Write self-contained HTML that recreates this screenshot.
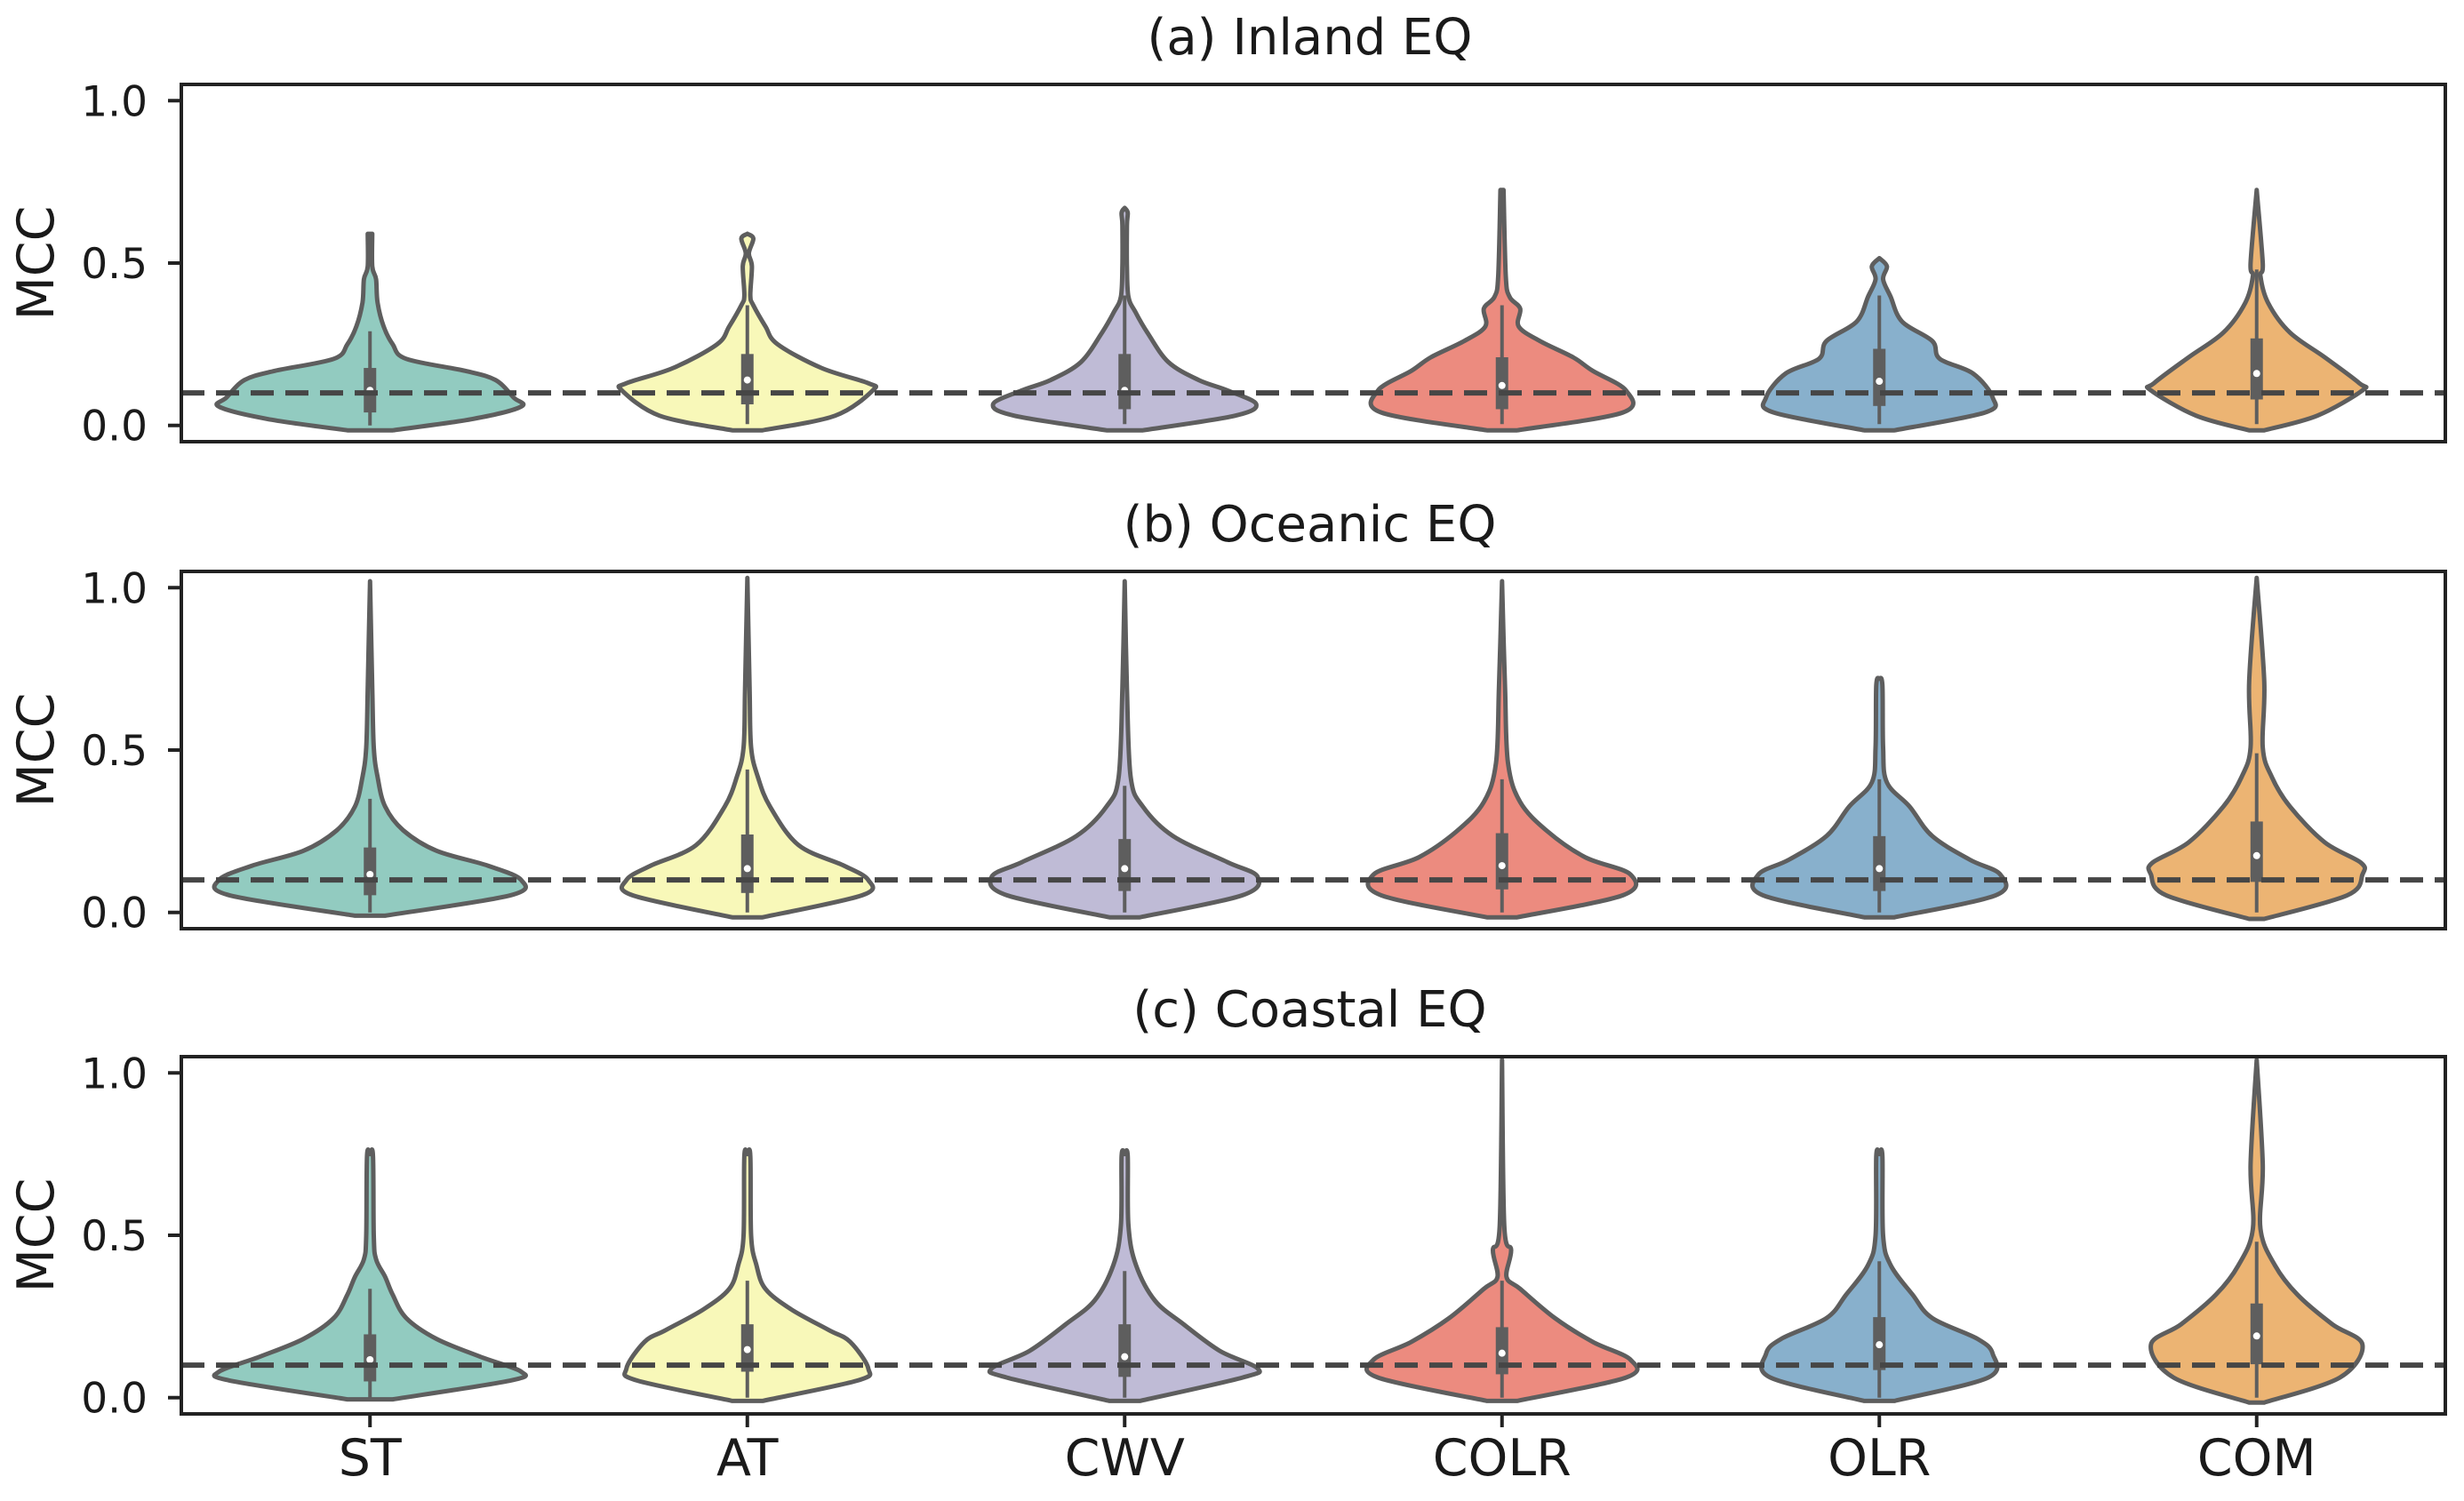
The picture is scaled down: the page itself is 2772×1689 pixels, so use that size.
<!DOCTYPE html>
<html><head><meta charset="utf-8">
<style>
html,body{margin:0;padding:0;background:#fff;}
svg{display:block;}
text{font-family:"DejaVu Sans","Liberation Sans",sans-serif;fill:#1a1a1a;}
</style></head>
<body>
<svg id="chart" width="2772" height="1689" viewBox="0 0 2772 1689" xmlns="http://www.w3.org/2000/svg"></svg>
<script>
const categories = ["ST","AT","CWV","COLR","OLR","COM"];
const panelTitles = ["(a) Inland EQ","(b) Oceanic EQ","(c) Coastal EQ"];
const yTicks = [0.0, 0.5, 1.0];
const yTickLabels = ["0.0","0.5","1.0"];
const threshold = 0.1;
const colors = ["#92cbc0","#f8f8b9","#bfbbd6","#ec8b7f","#88b0cc","#ecb473"];

// violin profiles: [value, relative half-width]
const shapesA = [
 [[-0.015,0.15],[0.02,0.68],[0.058,1.0],[0.086,0.95],[0.14,0.83],[0.168,0.63],[0.205,0.24],[0.25,0.15],[0.305,0.09],[0.378,0.05],[0.45,0.04],[0.49,0.015],[0.59,0.015]],
 [[-0.015,0.1],[0.03,0.58],[0.108,0.83],[0.13,0.8],[0.177,0.49],[0.25,0.2],[0.305,0.12],[0.37,0.04],[0.40,0.02],[0.49,0.03],[0.53,0.01],[0.575,0.04],[0.59,0.0]],
 [[-0.015,0.12],[0.03,0.73],[0.066,0.87],[0.108,0.68],[0.14,0.49],[0.195,0.29],[0.286,0.15],[0.35,0.07],[0.396,0.025],[0.49,0.015],[0.615,0.015],[0.655,0.02],[0.67,0.0]],
 [[-0.015,0.1],[0.04,0.8],[0.108,0.82],[0.168,0.6],[0.21,0.47],[0.26,0.25],[0.305,0.11],[0.36,0.12],[0.396,0.05],[0.46,0.025],[0.725,0.01]],
 [[-0.015,0.1],[0.04,0.7],[0.086,0.75],[0.16,0.62],[0.205,0.4],[0.26,0.35],[0.32,0.15],[0.396,0.075],[0.45,0.025],[0.49,0.05],[0.515,0.0]],
 [[-0.015,0.05],[0.03,0.4],[0.108,0.7],[0.13,0.68],[0.21,0.45],[0.286,0.22],[0.378,0.075],[0.46,0.025],[0.5,0.04],[0.725,0.0]]
];
const shapesB = [
 [[-0.01,0.1],[0.053,0.93],[0.1,1.0],[0.144,0.78],[0.19,0.44],[0.253,0.22],[0.326,0.1],[0.417,0.05],[0.508,0.025],[0.69,0.015],[1.02,0.0]],
 [[-0.015,0.1],[0.053,0.76],[0.1,0.8],[0.144,0.64],[0.207,0.34],[0.326,0.15],[0.417,0.07],[0.508,0.025],[0.69,0.015],[1.03,0.0]],
 [[-0.015,0.1],[0.053,0.78],[0.11,0.88],[0.155,0.68],[0.235,0.32],[0.326,0.12],[0.417,0.04],[0.69,0.015],[1.02,0.0]],
 [[-0.015,0.1],[0.053,0.8],[0.117,0.85],[0.17,0.55],[0.25,0.3],[0.34,0.12],[0.46,0.04],[0.69,0.02],[1.02,0.0]],
 [[-0.015,0.1],[0.053,0.77],[0.117,0.8],[0.162,0.6],[0.235,0.35],[0.326,0.2],[0.4,0.05],[0.508,0.025],[0.7,0.02],[0.72,0.0]],
 [[-0.02,0.05],[0.053,0.6],[0.117,0.7],[0.153,0.69],[0.216,0.45],[0.326,0.22],[0.417,0.1],[0.508,0.04],[0.71,0.05],[1.03,0.0]]
];
const shapesC = [
 [[-0.005,0.15],[0.053,0.93],[0.08,1.0],[0.126,0.73],[0.181,0.44],[0.245,0.24],[0.317,0.15],[0.372,0.1],[0.426,0.04],[0.499,0.025],[0.744,0.02],[0.75,0.0]],
 [[-0.01,0.1],[0.053,0.73],[0.09,0.8],[0.172,0.68],[0.208,0.54],[0.272,0.29],[0.335,0.12],[0.408,0.06],[0.499,0.025],[0.744,0.02],[0.75,0.0]],
 [[-0.01,0.1],[0.062,0.78],[0.09,0.88],[0.144,0.63],[0.226,0.39],[0.299,0.2],[0.408,0.075],[0.53,0.025],[0.744,0.02],[0.75,0.0]],
 [[-0.01,0.1],[0.062,0.82],[0.117,0.85],[0.172,0.6],[0.245,0.35],[0.335,0.12],[0.372,0.03],[0.455,0.06],[0.53,0.015],[1.04,0.0]],
 [[-0.01,0.1],[0.062,0.72],[0.135,0.75],[0.181,0.65],[0.245,0.35],[0.317,0.22],[0.408,0.075],[0.499,0.025],[0.744,0.02],[0.75,0.0]],
 [[-0.015,0.05],[0.062,0.55],[0.163,0.7],[0.226,0.5],[0.317,0.27],[0.408,0.12],[0.52,0.025],[0.718,0.04],[1.04,0.0]]
];
// box stats: [whiskerLow, q1, median, q3, whiskerHigh]
const boxesA = [[0.0,0.04,0.108,0.177,0.29],[0.004,0.065,0.14,0.22,0.37],[0.004,0.05,0.108,0.22,0.40],[0.004,0.05,0.123,0.21,0.37],[0.004,0.06,0.136,0.236,0.40],[0.004,0.08,0.16,0.268,0.48]];
const boxesB = [[0.0,0.053,0.117,0.2,0.35],[0.0,0.06,0.135,0.24,0.44],[0.0,0.066,0.135,0.226,0.39],[0.0,0.071,0.144,0.244,0.41],[0.0,0.066,0.135,0.235,0.41],[0.0,0.094,0.175,0.28,0.49]];
const boxesC = [[0.0,0.05,0.117,0.195,0.335],[0.0,0.08,0.148,0.226,0.36],[0.0,0.064,0.126,0.226,0.39],[0.0,0.072,0.137,0.217,0.36],[0.0,0.085,0.163,0.248,0.42],[0.0,0.103,0.19,0.29,0.48]];

const allShapes = [shapesA, shapesB, shapesC];
const allBoxes = [boxesA, boxesB, boxesC];

const NS = "http://www.w3.org/2000/svg";
const svg = document.getElementById("chart");
const X0 = 204, X1 = 2751;
const panelTops = [95, 643, 1189];
const PH = 402, YMIN = -0.05, YMAX = 1.05;
const HALF = 170;
function mk(tag, attrs, parent){
  const e = document.createElementNS(NS, tag);
  for (const k in attrs) e.setAttribute(k, attrs[k]);
  (parent||svg).appendChild(e);
  return e;
}
function xPos(i){ return X0 + (X1-X0)/categories.length*(i+0.5); }
// smooth open curve through points (Catmull-Rom -> cubic bezier)
function smooth(P){
  let d = "";
  for (let i=0;i<P.length-1;i++){
    const p0=P[Math.max(0,i-1)], p1=P[i], p2=P[i+1], p3=P[Math.min(P.length-1,i+2)];
    const c1=[p1[0]+(p2[0]-p0[0])/6, p1[1]+(p2[1]-p0[1])/6];
    const c2=[p2[0]-(p3[0]-p1[0])/6, p2[1]-(p3[1]-p1[1])/6];
    d += "C"+c1[0].toFixed(1)+","+c1[1].toFixed(1)+" "+c2[0].toFixed(1)+","+c2[1].toFixed(1)+" "+p2[0].toFixed(1)+","+p2[1].toFixed(1);
  }
  return d;
}

panelTitles.forEach((title, p) => {
  const top = panelTops[p];
  const yPos = v => top + (YMAX - v)/(YMAX-YMIN)*PH;
  const g = mk("g", {});
  
  

  const t = mk("text", {x:(X0+X1)/2 - 4, y: top-34, "font-size":56, "text-anchor":"middle"}, g);
  t.textContent = title;
  
  

  const yl = mk("text", {x:0, y:0, "font-size":57, "text-anchor":"middle", transform:`translate(60,${top+PH/2}) rotate(-90)`}, g);
  yl.textContent = "MCC";
  
  

  yTicks.forEach((v, k) => {
    const y = yPos(v);
    const tk = mk("line", {x1:X0-15, x2:X0, y1:y, y2:y, stroke:"#222", "stroke-width":4}, g);
    
    
    const tl = mk("text", {x:X0-38, y:y+17, "font-size":47, "text-anchor":"end"}, g);
    tl.textContent = yTickLabels[k];
    
    
  });

  categories.forEach((c, i) => {
    const cx = xPos(i);
    const prof = allShapes[p][i];
    const right = prof.map(d => [cx + d[1]*HALF, yPos(d[0])]);
    const left = prof.slice().reverse().map(d => [cx - d[1]*HALF, yPos(d[0])]);
    const dstr = "M"+right[0][0].toFixed(1)+","+right[0][1].toFixed(1) + smooth(right) +
      "L"+left[0][0].toFixed(1)+","+left[0][1].toFixed(1) + smooth(left) + "Z";
    const path = mk("path", {d: dstr, fill: colors[i], stroke:"#5e5e5e", "stroke-width":5, "stroke-linejoin":"round"}, g);
    
    

    const b = allBoxes[p][i];
    const wh = mk("line", {x1:cx, x2:cx, y1:yPos(b[0]), y2:yPos(b[4]), stroke:"#5e5e5e", "stroke-width":4}, g);
    
    
    const bx = mk("rect", {x:cx-7, y:yPos(b[3]), width:14, height:yPos(b[1])-yPos(b[3]), fill:"#5e5e5e"}, g);
    
    
    const md = mk("circle", {cx:cx, cy:yPos(b[2]), r:4, fill:"#fff"}, g);
    
    
  });

  const dl = mk("line", {x1:X0, x2:X1, y1:yPos(threshold), y2:yPos(threshold), stroke:"#464646", "stroke-width":6, "stroke-dasharray":"26 13"}, g);
  
  

  const fr = mk("rect", {x:X0, y:top, width:X1-X0, height:PH, fill:"none", stroke:"#222", "stroke-width":4}, g);
  
  

  if (p === 2) {
    categories.forEach((c, i) => {
      const cx = xPos(i);
      const xt = mk("line", {x1:cx, x2:cx, y1:top+PH, y2:top+PH+15, stroke:"#222", "stroke-width":4}, g);
      
      
      const xl = mk("text", {x:cx, y:1660, "font-size":57, "text-anchor":"middle"}, g);
      xl.textContent = c;
      
      
    });
  }
});
</script>
</body></html>
